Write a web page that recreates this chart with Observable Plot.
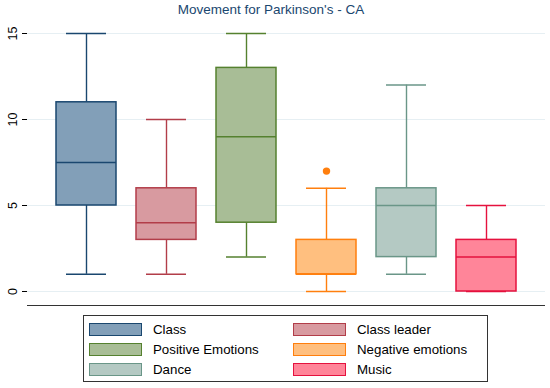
<!DOCTYPE html>
<html>
<head>
<meta charset="utf-8">
<script src="https://cdn.jsdelivr.net/npm/d3@7"></script>
<script src="https://cdn.jsdelivr.net/npm/@observablehq/plot@0.6"></script>
<style>
  body { margin: 0; background: #fff; font-family: "Liberation Sans", Arial, Helvetica, sans-serif; }
  #wrap { position: relative; width: 550px; height: 388px; overflow: hidden; }
  #title { position: absolute; left: 0; width: 542px; top: 2px; text-align: center; font-size: 13.5px; color: #1a476f; line-height: 16px; }
  #chart { position: absolute; left: 0; top: 18px; }
  #legend { position: absolute; left: 83px; top: 315px; width: 403px; height: 65px; border: 1px solid #333; box-sizing: content-box; }
  .item { position: absolute; height: 20px; font-size: 13.3px; color: #000; line-height: 20px; white-space: nowrap; }
  .sw { position: absolute; left: 0; top: 3px; width: 51px; height: 11px; border: 1.5px solid; }
  .lab { position: absolute; left: 64px; top: 0; }
</style>
</head>
<body>
<div id="wrap">
  <div id="title">Movement for Parkinson's - CA</div>
  <div id="chart"></div>
  <div id="legend"></div>
</div>
<script>
const categories = ["Class", "Class leader", "Positive Emotions", "Negative emotions", "Dance", "Music"];
const mins    = [1, 1, 2, 0, 1, 0];
const q1s     = [5, 3, 4, 1, 2, 0];
const medians = [7.5, 4, 9, 1, 5, 2];
const q3s     = [11, 6, 13, 3, 6, 3];
const maxs    = [15, 10, 15, 6, 12, 5];
const outliers = [{cat: "Negative emotions", value: 7}];
const strokes = ["#1a476f", "#b23d49", "#55812f", "#ff7f0e", "#6a9688", "#e5123e"];
const fills   = ["#829fb8", "#d89aa0", "#a8bd96", "#ffbf7f", "#b4c9c3", "#ff8599"];
const yTicks = [0, 5, 10, 15];

const data = categories.map((c, i) => ({cat: c, min: mins[i], q1: q1s[i], med: medians[i], q3: q3s[i], max: maxs[i], stroke: strokes[i], fill: fills[i]}));
const colorOf = Object.fromEntries(categories.map((c, i) => [c, strokes[i]]));

const chart = Plot.plot({
  width: 550,
  height: 292,
  marginLeft: 27,
  marginRight: 5,
  marginTop: 2,
  marginBottom: 5,
  x: {domain: categories, axis: null, paddingInner: 0.256, paddingOuter: 0.34},
  y: {domain: [-0.814, 15.756], ticks: yTicks},
  style: {fontFamily: "Liberation Sans, Arial, sans-serif", background: "#fff"},
  marks: [
    Plot.gridY(yTicks, {stroke: "#e6eff3", strokeOpacity: 1, strokeWidth: 1}),
    Plot.ruleX(data, {x: "cat", y1: "q3", y2: "max", stroke: "stroke", strokeWidth: 1.4}),
    Plot.ruleX(data, {x: "cat", y1: "min", y2: "q1", stroke: "stroke", strokeWidth: 1.4}),
    Plot.tickY(data, {x: "cat", y: "max", stroke: "stroke", strokeWidth: 1.5, insetLeft: 10, insetRight: 10}),
    Plot.tickY(data, {x: "cat", y: "min", stroke: "stroke", strokeWidth: 1.5, insetLeft: 10, insetRight: 10}),
    Plot.barY(data, {x: "cat", y1: "q1", y2: "q3", fill: "fill", stroke: "stroke", strokeWidth: 1.5}),
    Plot.tickY(data, {x: "cat", y: "med", stroke: "stroke", strokeWidth: 1.5}),
    Plot.dot(outliers, {x: "cat", y: "value", r: 3.7, fill: d => colorOf[d.cat], stroke: "none"}),
    Plot.axisY(yTicks, {tickSize: 5, tickPadding: 6, tickRotate: -90, fontSize: 12.5, label: null, line: true, stroke: "#000", color: "#000"}),
    Plot.ruleY([-0.814], {stroke: "#333", strokeWidth: 1.2})
  ]
});
document.getElementById("chart").appendChild(chart);

const legend = document.getElementById("legend");
categories.forEach((c, i) => {
  const col = i % 2, row = Math.floor(i / 2);
  const it = document.createElement("div");
  it.className = "item";
  it.style.left = (col === 0 ? 5 : 209) + "px";
  it.style.top = (4 + row * 20) + "px";
  const sw = document.createElement("div");
  sw.className = "sw";
  sw.style.background = fills[i];
  sw.style.borderColor = strokes[i];
  const lab = document.createElement("span");
  lab.className = "lab";
  lab.textContent = c;
  it.appendChild(sw); it.appendChild(lab);
  legend.appendChild(it);
});
</script>
</body>
</html>
